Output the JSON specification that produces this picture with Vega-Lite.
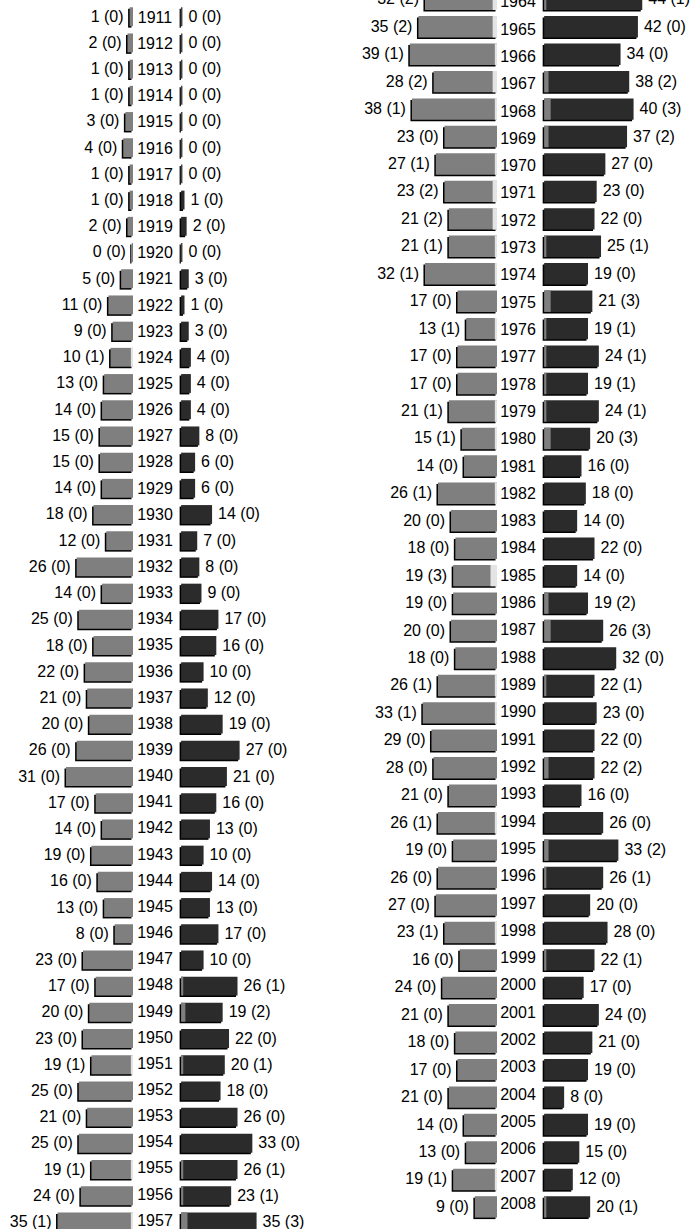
{
  "$schema": "https://vega.github.io/schema/vega-lite/v6.json",
  "padding": 0,
  "spacing": 0,
  "bounds": "flush",
  "config": {"view": {"stroke": null}, "concat": {"spacing": 0}},
  "datasets": {
    "a": [
      {"year":1911,"l":1,"lp":0,"lt":"1 (0)","r":0,"rp":0,"rt":"0 (0)"},
      {"year":1912,"l":2,"lp":0,"lt":"2 (0)","r":0,"rp":0,"rt":"0 (0)"},
      {"year":1913,"l":1,"lp":0,"lt":"1 (0)","r":0,"rp":0,"rt":"0 (0)"},
      {"year":1914,"l":1,"lp":0,"lt":"1 (0)","r":0,"rp":0,"rt":"0 (0)"},
      {"year":1915,"l":3,"lp":0,"lt":"3 (0)","r":0,"rp":0,"rt":"0 (0)"},
      {"year":1916,"l":4,"lp":0,"lt":"4 (0)","r":0,"rp":0,"rt":"0 (0)"},
      {"year":1917,"l":1,"lp":0,"lt":"1 (0)","r":0,"rp":0,"rt":"0 (0)"},
      {"year":1918,"l":1,"lp":0,"lt":"1 (0)","r":1,"rp":0,"rt":"1 (0)"},
      {"year":1919,"l":2,"lp":0,"lt":"2 (0)","r":2,"rp":0,"rt":"2 (0)"},
      {"year":1920,"l":0,"lp":0,"lt":"0 (0)","r":0,"rp":0,"rt":"0 (0)"},
      {"year":1921,"l":5,"lp":0,"lt":"5 (0)","r":3,"rp":0,"rt":"3 (0)"},
      {"year":1922,"l":11,"lp":0,"lt":"11 (0)","r":1,"rp":0,"rt":"1 (0)"},
      {"year":1923,"l":9,"lp":0,"lt":"9 (0)","r":3,"rp":0,"rt":"3 (0)"},
      {"year":1924,"l":10,"lp":1,"lt":"10 (1)","r":4,"rp":0,"rt":"4 (0)"},
      {"year":1925,"l":13,"lp":0,"lt":"13 (0)","r":4,"rp":0,"rt":"4 (0)"},
      {"year":1926,"l":14,"lp":0,"lt":"14 (0)","r":4,"rp":0,"rt":"4 (0)"},
      {"year":1927,"l":15,"lp":0,"lt":"15 (0)","r":8,"rp":0,"rt":"8 (0)"},
      {"year":1928,"l":15,"lp":0,"lt":"15 (0)","r":6,"rp":0,"rt":"6 (0)"},
      {"year":1929,"l":14,"lp":0,"lt":"14 (0)","r":6,"rp":0,"rt":"6 (0)"},
      {"year":1930,"l":18,"lp":0,"lt":"18 (0)","r":14,"rp":0,"rt":"14 (0)"},
      {"year":1931,"l":12,"lp":0,"lt":"12 (0)","r":7,"rp":0,"rt":"7 (0)"},
      {"year":1932,"l":26,"lp":0,"lt":"26 (0)","r":8,"rp":0,"rt":"8 (0)"},
      {"year":1933,"l":14,"lp":0,"lt":"14 (0)","r":9,"rp":0,"rt":"9 (0)"},
      {"year":1934,"l":25,"lp":0,"lt":"25 (0)","r":17,"rp":0,"rt":"17 (0)"},
      {"year":1935,"l":18,"lp":0,"lt":"18 (0)","r":16,"rp":0,"rt":"16 (0)"},
      {"year":1936,"l":22,"lp":0,"lt":"22 (0)","r":10,"rp":0,"rt":"10 (0)"},
      {"year":1937,"l":21,"lp":0,"lt":"21 (0)","r":12,"rp":0,"rt":"12 (0)"},
      {"year":1938,"l":20,"lp":0,"lt":"20 (0)","r":19,"rp":0,"rt":"19 (0)"},
      {"year":1939,"l":26,"lp":0,"lt":"26 (0)","r":27,"rp":0,"rt":"27 (0)"},
      {"year":1940,"l":31,"lp":0,"lt":"31 (0)","r":21,"rp":0,"rt":"21 (0)"},
      {"year":1941,"l":17,"lp":0,"lt":"17 (0)","r":16,"rp":0,"rt":"16 (0)"},
      {"year":1942,"l":14,"lp":0,"lt":"14 (0)","r":13,"rp":0,"rt":"13 (0)"},
      {"year":1943,"l":19,"lp":0,"lt":"19 (0)","r":10,"rp":0,"rt":"10 (0)"},
      {"year":1944,"l":16,"lp":0,"lt":"16 (0)","r":14,"rp":0,"rt":"14 (0)"},
      {"year":1945,"l":13,"lp":0,"lt":"13 (0)","r":13,"rp":0,"rt":"13 (0)"},
      {"year":1946,"l":8,"lp":0,"lt":"8 (0)","r":17,"rp":0,"rt":"17 (0)"},
      {"year":1947,"l":23,"lp":0,"lt":"23 (0)","r":10,"rp":0,"rt":"10 (0)"},
      {"year":1948,"l":17,"lp":0,"lt":"17 (0)","r":26,"rp":1,"rt":"26 (1)"},
      {"year":1949,"l":20,"lp":0,"lt":"20 (0)","r":19,"rp":2,"rt":"19 (2)"},
      {"year":1950,"l":23,"lp":0,"lt":"23 (0)","r":22,"rp":0,"rt":"22 (0)"},
      {"year":1951,"l":19,"lp":1,"lt":"19 (1)","r":20,"rp":1,"rt":"20 (1)"},
      {"year":1952,"l":25,"lp":0,"lt":"25 (0)","r":18,"rp":0,"rt":"18 (0)"},
      {"year":1953,"l":21,"lp":0,"lt":"21 (0)","r":26,"rp":0,"rt":"26 (0)"},
      {"year":1954,"l":25,"lp":0,"lt":"25 (0)","r":33,"rp":0,"rt":"33 (0)"},
      {"year":1955,"l":19,"lp":1,"lt":"19 (1)","r":26,"rp":1,"rt":"26 (1)"},
      {"year":1956,"l":24,"lp":0,"lt":"24 (0)","r":23,"rp":1,"rt":"23 (1)"},
      {"year":1957,"l":35,"lp":1,"lt":"35 (1)","r":35,"rp":3,"rt":"35 (3)"}
    ],
    "b": [
      {"year":1964,"l":32,"lp":2,"lt":"32 (2)","r":44,"rp":1,"rt":"44 (1)"},
      {"year":1965,"l":35,"lp":2,"lt":"35 (2)","r":42,"rp":0,"rt":"42 (0)"},
      {"year":1966,"l":39,"lp":1,"lt":"39 (1)","r":34,"rp":0,"rt":"34 (0)"},
      {"year":1967,"l":28,"lp":2,"lt":"28 (2)","r":38,"rp":2,"rt":"38 (2)"},
      {"year":1968,"l":38,"lp":1,"lt":"38 (1)","r":40,"rp":3,"rt":"40 (3)"},
      {"year":1969,"l":23,"lp":0,"lt":"23 (0)","r":37,"rp":2,"rt":"37 (2)"},
      {"year":1970,"l":27,"lp":1,"lt":"27 (1)","r":27,"rp":0,"rt":"27 (0)"},
      {"year":1971,"l":23,"lp":2,"lt":"23 (2)","r":23,"rp":0,"rt":"23 (0)"},
      {"year":1972,"l":21,"lp":2,"lt":"21 (2)","r":22,"rp":0,"rt":"22 (0)"},
      {"year":1973,"l":21,"lp":1,"lt":"21 (1)","r":25,"rp":1,"rt":"25 (1)"},
      {"year":1974,"l":32,"lp":1,"lt":"32 (1)","r":19,"rp":0,"rt":"19 (0)"},
      {"year":1975,"l":17,"lp":0,"lt":"17 (0)","r":21,"rp":3,"rt":"21 (3)"},
      {"year":1976,"l":13,"lp":1,"lt":"13 (1)","r":19,"rp":1,"rt":"19 (1)"},
      {"year":1977,"l":17,"lp":0,"lt":"17 (0)","r":24,"rp":1,"rt":"24 (1)"},
      {"year":1978,"l":17,"lp":0,"lt":"17 (0)","r":19,"rp":1,"rt":"19 (1)"},
      {"year":1979,"l":21,"lp":1,"lt":"21 (1)","r":24,"rp":1,"rt":"24 (1)"},
      {"year":1980,"l":15,"lp":1,"lt":"15 (1)","r":20,"rp":3,"rt":"20 (3)"},
      {"year":1981,"l":14,"lp":0,"lt":"14 (0)","r":16,"rp":0,"rt":"16 (0)"},
      {"year":1982,"l":26,"lp":1,"lt":"26 (1)","r":18,"rp":0,"rt":"18 (0)"},
      {"year":1983,"l":20,"lp":0,"lt":"20 (0)","r":14,"rp":0,"rt":"14 (0)"},
      {"year":1984,"l":18,"lp":0,"lt":"18 (0)","r":22,"rp":0,"rt":"22 (0)"},
      {"year":1985,"l":19,"lp":3,"lt":"19 (3)","r":14,"rp":0,"rt":"14 (0)"},
      {"year":1986,"l":19,"lp":0,"lt":"19 (0)","r":19,"rp":2,"rt":"19 (2)"},
      {"year":1987,"l":20,"lp":0,"lt":"20 (0)","r":26,"rp":3,"rt":"26 (3)"},
      {"year":1988,"l":18,"lp":0,"lt":"18 (0)","r":32,"rp":0,"rt":"32 (0)"},
      {"year":1989,"l":26,"lp":1,"lt":"26 (1)","r":22,"rp":1,"rt":"22 (1)"},
      {"year":1990,"l":33,"lp":1,"lt":"33 (1)","r":23,"rp":0,"rt":"23 (0)"},
      {"year":1991,"l":29,"lp":0,"lt":"29 (0)","r":22,"rp":0,"rt":"22 (0)"},
      {"year":1992,"l":28,"lp":0,"lt":"28 (0)","r":22,"rp":2,"rt":"22 (2)"},
      {"year":1993,"l":21,"lp":0,"lt":"21 (0)","r":16,"rp":0,"rt":"16 (0)"},
      {"year":1994,"l":26,"lp":1,"lt":"26 (1)","r":26,"rp":0,"rt":"26 (0)"},
      {"year":1995,"l":19,"lp":0,"lt":"19 (0)","r":33,"rp":2,"rt":"33 (2)"},
      {"year":1996,"l":26,"lp":0,"lt":"26 (0)","r":26,"rp":1,"rt":"26 (1)"},
      {"year":1997,"l":27,"lp":0,"lt":"27 (0)","r":20,"rp":0,"rt":"20 (0)"},
      {"year":1998,"l":23,"lp":1,"lt":"23 (1)","r":28,"rp":0,"rt":"28 (0)"},
      {"year":1999,"l":16,"lp":0,"lt":"16 (0)","r":22,"rp":1,"rt":"22 (1)"},
      {"year":2000,"l":24,"lp":0,"lt":"24 (0)","r":17,"rp":0,"rt":"17 (0)"},
      {"year":2001,"l":21,"lp":0,"lt":"21 (0)","r":24,"rp":0,"rt":"24 (0)"},
      {"year":2002,"l":18,"lp":0,"lt":"18 (0)","r":21,"rp":0,"rt":"21 (0)"},
      {"year":2003,"l":17,"lp":0,"lt":"17 (0)","r":19,"rp":0,"rt":"19 (0)"},
      {"year":2004,"l":21,"lp":0,"lt":"21 (0)","r":8,"rp":0,"rt":"8 (0)"},
      {"year":2005,"l":14,"lp":0,"lt":"14 (0)","r":19,"rp":0,"rt":"19 (0)"},
      {"year":2006,"l":13,"lp":0,"lt":"13 (0)","r":15,"rp":0,"rt":"15 (0)"},
      {"year":2007,"l":19,"lp":1,"lt":"19 (1)","r":12,"rp":0,"rt":"12 (0)"},
      {"year":2008,"l":9,"lp":0,"lt":"9 (0)","r":20,"rp":1,"rt":"20 (1)"}
    ]
  },
  "hconcat": [
    {
      "width": 133, "height": 1229,
      "data": {"name": "a"},
      "encoding": {"y": {"field": "year", "type": "ordinal", "axis": null, "scale": {"paddingInner": 0.28, "paddingOuter": 0.094}}},
      "resolve": {"scale": {"x": "independent"}},
      "layer": [
        {"mark": {"type": "bar", "color": "#000000", "clip": true, "xOffset": -1.5, "x2Offset": -1.5, "yOffset": 6.3, "y2Offset": 6.3},
         "encoding": {"x": {"field": "l", "type": "quantitative", "axis": null, "scale": {"domain": [-0.6, 62.14], "reverse": true, "nice": false, "zero": false}}, "x2": {"datum": -0.6}}},
        {"mark": {"type": "bar", "color": "#7f7f7f", "clip": true, "yOffset": 4.8, "y2Offset": 4.8},
         "encoding": {"x": {"field": "l", "type": "quantitative", "axis": null, "scale": {"domain": [-0.6, 62.14], "reverse": true, "nice": false, "zero": false}}, "x2": {"datum": -0.6}}},
        {"transform": [{"filter": "datum.lp > 0"}],
         "mark": {"type": "bar", "color": "#e4e4e4", "clip": true, "yOffset": 4.8, "y2Offset": 4.8},
         "encoding": {"x": {"field": "lp", "type": "quantitative", "axis": null, "scale": {"domain": [0, 62.74], "reverse": true, "nice": false, "zero": false}}, "x2": {"datum": 0}}},
        {"mark": {"type": "text", "align": "right", "baseline": "middle", "dx": -6, "font": "Liberation Sans", "fontSize": 16, "color": "#000000", "clip": true, "yOffset": 4.8},
         "encoding": {"x": {"field": "l", "type": "quantitative", "axis": null, "scale": {"domain": [-0.6, 62.14], "reverse": true, "nice": false, "zero": false}}, "text": {"field": "lt", "type": "nominal"}}}
      ]
    },
    {
      "width": 46, "height": 1229,
      "data": {"name": "a"},
      "mark": {"type": "text", "align": "center", "baseline": "middle", "dx": -1, "font": "Liberation Sans", "fontSize": 16, "color": "#000000", "clip": true, "yOffset": 4.8},
      "encoding": {
        "y": {"field": "year", "type": "ordinal", "axis": null, "scale": {"paddingInner": 0.28, "paddingOuter": 0.094}},
        "text": {"field": "year", "type": "nominal"}
      }
    },
    {
      "width": 152, "height": 1229,
      "data": {"name": "a"},
      "encoding": {"y": {"field": "year", "type": "ordinal", "axis": null, "scale": {"paddingInner": 0.28, "paddingOuter": 0.094}}},
      "resolve": {"scale": {"x": "independent"}},
      "layer": [
        {"mark": {"type": "bar", "color": "#000000", "clip": true, "xOffset": -1.5, "x2Offset": -1.5, "yOffset": 6.3, "y2Offset": 6.3},
         "encoding": {"x": {"field": "r", "type": "quantitative", "axis": null, "scale": {"domain": [-1.6, 70.1], "nice": false, "zero": false}}, "x2": {"datum": -0.6}}},
        {"mark": {"type": "bar", "color": "#2b2b2b", "clip": true, "yOffset": 4.8, "y2Offset": 4.8},
         "encoding": {"x": {"field": "r", "type": "quantitative", "axis": null, "scale": {"domain": [-1.6, 70.1], "nice": false, "zero": false}}, "x2": {"datum": -0.6}}},
        {"transform": [{"filter": "datum.rp > 0"}],
         "mark": {"type": "bar", "color": "#7f7f7f", "clip": true, "yOffset": 4.8, "y2Offset": 4.8},
         "encoding": {"x": {"field": "rp", "type": "quantitative", "axis": null, "scale": {"domain": [-1, 70.7], "nice": false, "zero": false}}, "x2": {"datum": 0}}},
        {"mark": {"type": "text", "align": "left", "baseline": "middle", "dx": 6, "font": "Liberation Sans", "fontSize": 16, "color": "#000000", "clip": true, "yOffset": 4.8},
         "encoding": {"x": {"field": "r", "type": "quantitative", "axis": null, "scale": {"domain": [-1.6, 70.1], "nice": false, "zero": false}}, "text": {"field": "rt", "type": "nominal"}}}
      ]
    },
    {
      "width": 166, "height": 1229,
      "data": {"name": "b"},
      "encoding": {"y": {"field": "year", "type": "ordinal", "axis": null, "scale": {"paddingInner": 0.22, "paddingOuter": 0}}},
      "resolve": {"scale": {"x": "independent"}},
      "layer": [
        {"mark": {"type": "bar", "color": "#000000", "clip": true, "xOffset": -1.5, "x2Offset": -1.5, "yOffset": -9.9, "y2Offset": -9.9},
         "encoding": {"x": {"field": "l", "type": "quantitative", "axis": null, "scale": {"domain": [-1.2, 75.3], "reverse": true, "nice": false, "zero": false}}, "x2": {"datum": -1.2}}},
        {"mark": {"type": "bar", "color": "#7f7f7f", "clip": true, "yOffset": -11.4, "y2Offset": -11.4},
         "encoding": {"x": {"field": "l", "type": "quantitative", "axis": null, "scale": {"domain": [-1.2, 75.3], "reverse": true, "nice": false, "zero": false}}, "x2": {"datum": -1.2}}},
        {"transform": [{"filter": "datum.lp > 0"}],
         "mark": {"type": "bar", "color": "#e4e4e4", "clip": true, "yOffset": -11.4, "y2Offset": -11.4},
         "encoding": {"x": {"field": "lp", "type": "quantitative", "axis": null, "scale": {"domain": [0, 76.5], "reverse": true, "nice": false, "zero": false}}, "x2": {"datum": 0}}},
        {"mark": {"type": "text", "align": "right", "baseline": "middle", "dx": -6, "font": "Liberation Sans", "fontSize": 16, "color": "#000000", "clip": true, "yOffset": -11.4},
         "encoding": {"x": {"field": "l", "type": "quantitative", "axis": null, "scale": {"domain": [-1.2, 75.3], "reverse": true, "nice": false, "zero": false}}, "text": {"field": "lt", "type": "nominal"}}}
      ]
    },
    {
      "width": 45, "height": 1229,
      "data": {"name": "b"},
      "mark": {"type": "text", "align": "center", "baseline": "middle", "dx": -1.5, "font": "Liberation Sans", "fontSize": 16, "color": "#000000", "clip": true, "yOffset": -11.4},
      "encoding": {
        "y": {"field": "year", "type": "ordinal", "axis": null, "scale": {"paddingInner": 0.22, "paddingOuter": 0}},
        "text": {"field": "year", "type": "nominal"}
      }
    },
    {
      "width": 158, "height": 1229,
      "data": {"name": "b"},
      "encoding": {"y": {"field": "year", "type": "ordinal", "axis": null, "scale": {"paddingInner": 0.22, "paddingOuter": 0}}},
      "resolve": {"scale": {"x": "independent"}},
      "layer": [
        {"mark": {"type": "bar", "color": "#000000", "clip": true, "xOffset": -1.5, "x2Offset": -1.5, "yOffset": -9.9, "y2Offset": -9.9},
         "encoding": {"x": {"field": "r", "type": "quantitative", "axis": null, "scale": {"domain": [-2.2, 70.61], "nice": false, "zero": false}}, "x2": {"datum": -1.2}}},
        {"mark": {"type": "bar", "color": "#2b2b2b", "clip": true, "yOffset": -11.4, "y2Offset": -11.4},
         "encoding": {"x": {"field": "r", "type": "quantitative", "axis": null, "scale": {"domain": [-2.2, 70.61], "nice": false, "zero": false}}, "x2": {"datum": -1.2}}},
        {"transform": [{"filter": "datum.rp > 0"}],
         "mark": {"type": "bar", "color": "#7f7f7f", "clip": true, "yOffset": -11.4, "y2Offset": -11.4},
         "encoding": {"x": {"field": "rp", "type": "quantitative", "axis": null, "scale": {"domain": [-1, 71.81], "nice": false, "zero": false}}, "x2": {"datum": 0}}},
        {"mark": {"type": "text", "align": "left", "baseline": "middle", "dx": 6, "font": "Liberation Sans", "fontSize": 16, "color": "#000000", "clip": true, "yOffset": -11.4},
         "encoding": {"x": {"field": "r", "type": "quantitative", "axis": null, "scale": {"domain": [-2.2, 70.61], "nice": false, "zero": false}}, "text": {"field": "rt", "type": "nominal"}}}
      ]
    }
  ]
}
